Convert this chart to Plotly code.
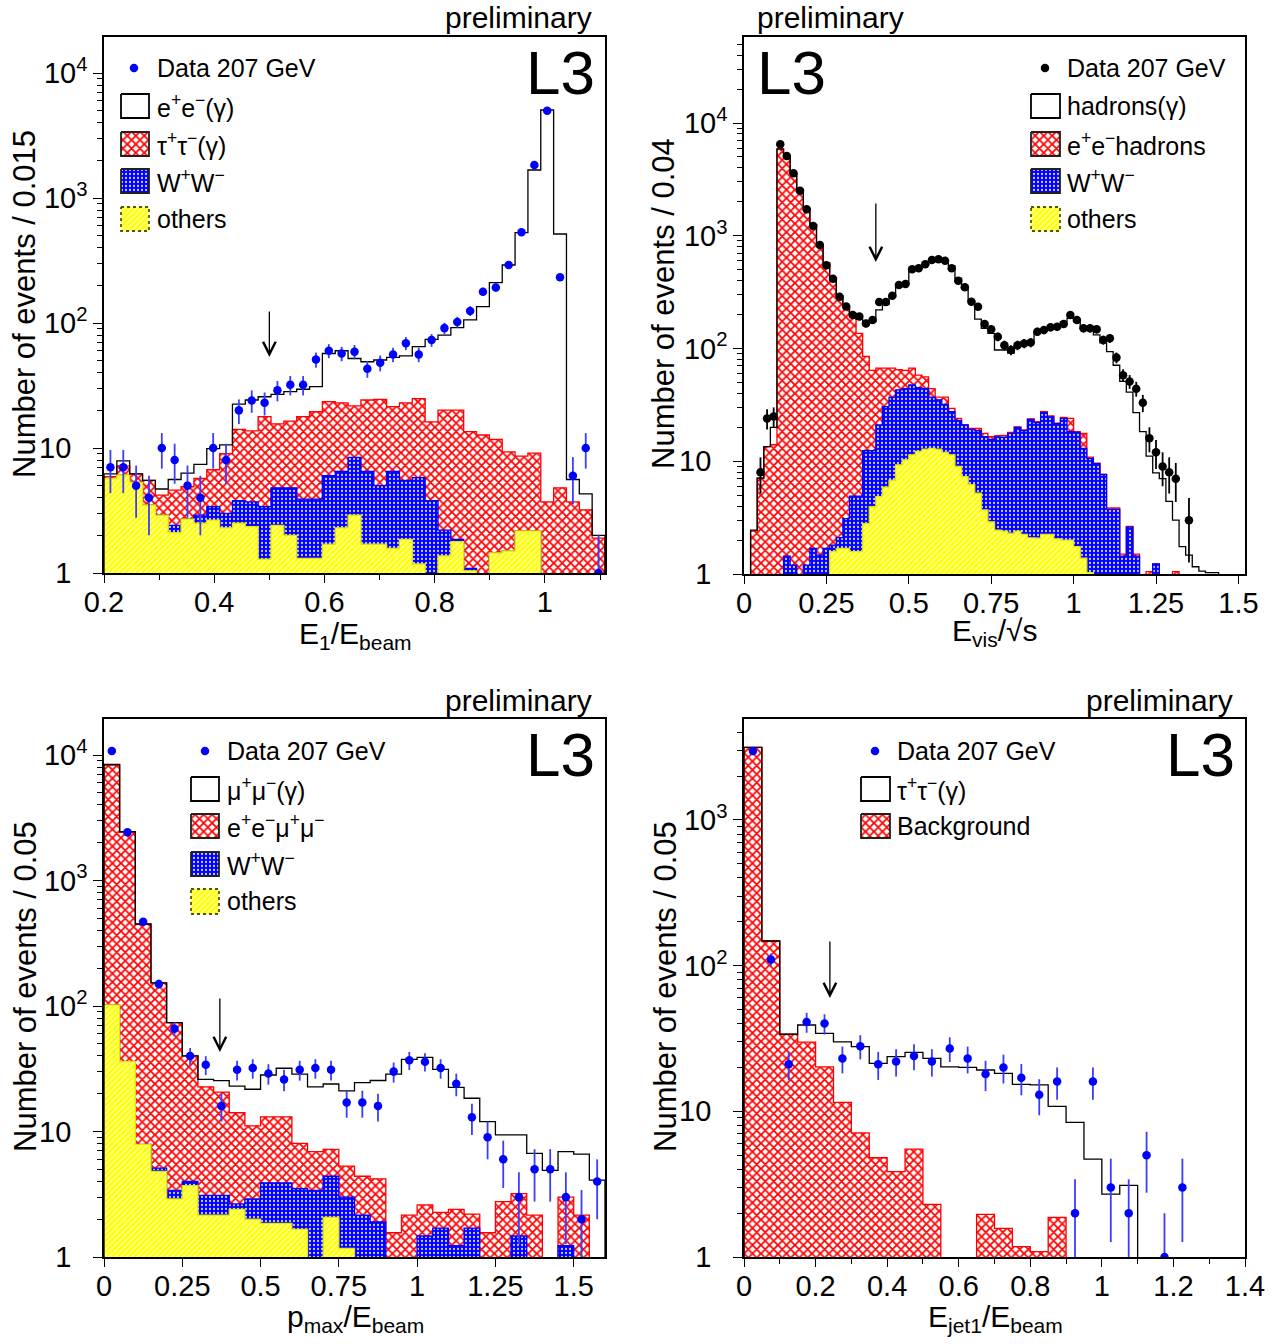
import numpy as np
import plotly.graph_objects as go

W, H = 1282, 1344
FONT = "Liberation Sans, Arial, Helvetica, sans-serif"

# ---------------- Panel 1 : E1/Ebeam ----------------
E1_EDGES = np.linspace(0.2, 1.109, 40)
E1_DATA = [7, 7, 5, 4, 10, 8, 5, 4, 10, 8, 20, 24, 23, 29, 32, 32, 51, 60, 57, 59,
           43, 48, 56, 69, 56, 73, 91, 102, 125, 178, 192, 291, 532, 1836, 4997, 232, 6, 10, 1]
E1_TOTAL = [6.2, 7.9, 6.2, 5.5, 4.7, 5.6, 6.3, 7.4, 9.9, 10.6, 22.4, 24.2, 25.7, 26.9, 28.2, 29.5,
            31, 57, 60, 52, 49, 50.6, 53, 54.5, 64.7, 74, 80, 92, 106, 135, 210, 291, 528, 1675,
            5060, 515, 5.6, 4.3, 2.0]
E1_TAU = [5.9, 7.2, 6.2, 5.5, 4.2, 4.6, 4.9, 5.7, 6.7, 9.0, 14.1, 13.7, 17.8, 15.6, 16.4, 17.8,
          19.5, 23.5, 23, 21.7, 24.2, 24.5, 21.4, 23, 24.8, 16.2, 20.1, 20.1, 13.5, 12.7, 11.7,
          9.3, 8.6, 9.1, 3.7, 4.8, 3.7, 3.2, 1.9]
E1_WW = [5.7, 6.1, 5.3, 3.5, 2.9, 2.4, 2.7, 2.9, 3.4, 3.0, 3.8, 3.7, 3.4, 4.8, 4.8, 3.9, 3.9,
         6.0, 6.5, 8.4, 6.5, 5.0, 6.5, 5.5, 5.8, 3.8, 2.2, 1.86, 1.09, 0, 1.45, 1.5, 2.17, 2.17,
         0, 0, 0, 0, 0]
E1_OTHERS = [5.7, 6.1, 5.3, 3.5, 2.9, 2.1, 2.7, 2.5, 2.65, 2.3, 2.5, 2.35, 1.29, 2.4, 2.0, 1.31,
             1.31, 1.7, 2.3, 2.9, 1.7, 1.7, 1.57, 1.86, 1.18, 0, 1.37, 1.78, 1.04, 0, 1.45, 1.5,
             2.17, 2.17, 0, 0, 0, 0, 0]

# ---------------- Panel 2 : Evis/sqrt(s) ----------------
EV_EDGES = np.linspace(0.0, 1.52, 77)
EV_DATA = [0, 0, 8, 24, 25, 6470, 5100, 3580, 2510, 1718, 1220, 828, 547, 416, 288, 236, 198,
           192, 167, 179, 258, 258, 294, 366, 373, 504, 514, 558, 610, 618, 601, 514, 399, 349,
           260, 235, 165, 148, 127, 107, 97, 107, 111, 113, 141, 146, 154, 156, 165, 198, 179,
           151, 151, 148, 119, 123, 83, 58, 51, 44, 33, 16, 12, 9, 8, 7, 0, 3, 0, 0, 0, 0, 0,
           0, 0, 0]
EV_TOTAL = [0, 2.45, 7.1, 13.5, 20, 5900, 5000, 3600, 2560, 1750, 1250, 830, 575, 425, 292, 240,
            205, 182, 162, 173, 220, 245, 288, 353, 372, 495, 520, 550, 590, 615, 600, 540, 420,
            340, 262, 182, 151, 136, 97, 97, 91, 107, 115, 117, 141, 143, 151, 151, 173, 185,
            173, 151, 146, 132, 112, 94, 71, 51, 41, 27, 18.3, 11.1, 7.9, 7.0, 4.4, 3.0, 1.75,
            1.47, 1.16, 1.06, 1.03, 1.03, 0, 0, 0, 0]
EV_EEHAD = [0, 2.4, 7.0, 13.5, 14, 5850, 4960, 3580, 2560, 1750, 1245, 828, 570, 420, 288, 230,
            191, 136, 85, 64, 67, 67, 67, 65, 64, 67, 58, 56, 44, 37, 37, 29.5, 24, 21, 19.6,
            19.6, 17.7, 16.5, 16.8, 17, 18, 20.2, 19, 23.8, 22.5, 27.6, 25.3, 21.8, 24.5, 24,
            18.3, 17.7, 10.9, 9.6, 7.7, 3.85, 3.85, 1.5, 2.65, 1.5, 0, 1.05, 1.23, 0, 0, 1.05,
            0, 0, 0, 0, 0, 0, 0, 0, 0, 0]
EV_WW = [0, 0, 0, 0, 0, 0, 1.44, 1.2, 0, 1.2, 1.69, 1.47, 1.69, 1.8, 2.1, 3.1, 4.9, 4.9, 12.4,
         12.4, 21, 30.5, 37, 43, 44, 47.5, 45, 44, 37, 35, 32, 27.5, 23, 21, 19.2, 18.7, 16.5,
         15.6, 16.5, 16.3, 17.7, 20, 18.7, 23.5, 22, 27, 24.8, 21.5, 24, 18.3, 18, 13, 10.6,
         9.5, 7.6, 3.75, 3.75, 1.44, 2.6, 1.44, 0, 0, 1.23, 0, 0, 0, 0, 0, 0, 0, 0, 0, 0, 0, 0, 0]
EV_OTHERS = [0, 0, 0, 0, 0, 0, 0, 0, 0, 0, 0, 0, 0, 1.58, 1.69, 1.69, 1.58, 1.58, 2.8, 3.95,
             4.85, 5.9, 6.8, 9.3, 10.3, 11.4, 12.2, 12.8, 13, 12.8, 12, 11.4, 9.0, 7.3, 6.2, 5.2,
             3.7, 2.9, 2.45, 2.4, 2.3, 2.4, 2.25, 2.1, 2.08, 2.25, 2.25, 2.05, 2.0, 2.0, 1.75,
             1.38, 1.03, 0, 0, 0, 0, 0, 0, 0, 0, 0, 0, 0, 0, 0, 0, 0, 0, 0, 0, 0, 0, 0, 0, 0]

# ---------------- Panel 3 : pmax/Ebeam ----------------
P_EDGES = np.linspace(0.0, 1.6, 33)
P_DATA = [10760, 2420, 470, 150, 66, 40, 34, 16, 31, 32, 29, 26, 31, 32, 31, 17, 17, 16, 30, 37,
          36, 32, 24, 13, 9, 6, 3, 5, 5, 3, 2, 4]
P_TOTAL = [8400, 2450, 450, 153, 73.6, 40, 26, 25.4, 23, 21.7, 28.2, 31.9, 28.7, 22.7, 23.9,
           21.1, 24.5, 25.5, 28.7, 37.6, 39, 31.3, 22.5, 18.4, 12, 9.4, 9.4, 6.7, 4.9, 6.9, 6.6, 4.1]
P_EEMUMU = [8320, 2420, 448, 153, 73.6, 40, 22.7, 20.6, 14.1, 11.1, 13.1, 13.1, 8.05, 6.9, 7.2,
            5.3, 4.4, 4.2, 1.56, 2.16, 2.6, 2.27, 2.4, 2.2, 1.56, 2.76, 3.2, 2.16, 0, 3.0, 2.16, 0]
P_WW = [102, 36, 7.9, 5.1, 3.4, 4.0, 3.1, 3.1, 2.65, 2.9, 3.9, 3.9, 3.5, 3.4, 4.4, 3.0, 2.16,
        1.9, 0, 0, 1.47, 1.7, 1.23, 1.7, 0, 0, 1.47, 0, 0, 1.23, 0, 0]
P_OTHERS = [102, 36, 7.9, 4.8, 2.9, 3.7, 2.16, 2.16, 2.4, 2.0, 1.85, 1.85, 1.66, 0, 2.07, 1.17,
            0, 0, 0, 0, 0, 0, 0, 0, 0, 0, 0, 0, 0, 0, 0, 0]

# ---------------- Panel 4 : Ejet1/Ebeam ----------------
J_EDGES = np.linspace(0.0, 1.4, 29)
J_DATA = [2970, 110, 21, 41, 40, 23, 28, 21, 22, 24, 22, 27, 23, 18, 20, 17, 13, 16, 2, 16, 3, 2,
          5, 1, 3, 0, 0, 0]
J_TOTAL = [3150, 147.5, 33.8, 39.1, 34.3, 30, 27.8, 21.3, 23.7, 25.4, 23.1, 20.2, 20, 19.2, 18.2,
           15.3, 15.2, 10.8, 8.4, 4.7, 2.7, 3.1, 0, 0, 0, 0, 0, 0]
J_BKG = [3150, 147.5, 33.8, 29.8, 20.2, 11.5, 7.1, 4.8, 3.85, 5.5, 2.3, 0, 0, 1.96, 1.57, 1.18,
         1.09, 1.87, 0, 0, 0, 0, 0, 0, 0, 0, 0, 0]

# cut positions (arrows)
CUTS = [0.5, 0.4, 0.37, 0.24]

# ---------------- styles ----------------
RED_PAT = dict(shape="x", fgcolor="#ff0000", bgcolor="#ffffff", size=6, solidity=0.5, fillmode="replace")
BLUE_PAT = dict(shape=".", fgcolor="#c8c8ff", bgcolor="#0000ff", size=4, solidity=0.25, fillmode="replace")
YEL_PAT = dict(shape="/", fgcolor="#ffffb4", bgcolor="#ffff00", size=4, solidity=0.35, fillmode="replace")


def PX(x):
    return x / W


def PY(y):
    return 1 - y / H


def step_xy(edges, vals, floor=0.1):
    xs = [edges[0]]
    ys = [floor]
    for i, v in enumerate(vals):
        vv = v if v > 0 else floor
        xs += [edges[i], edges[i + 1]]
        ys += [vv, vv]
    xs.append(edges[-1])
    ys.append(floor)
    return xs, ys


fig = go.Figure()


def add_fill(xa, ya, edges, vals, pat, lcol):
    xs, ys = step_xy(edges, vals)
    fig.add_trace(go.Scatter(x=xs, y=ys, xaxis=xa, yaxis=ya, mode="lines", fill="toself",
                             fillpattern=pat, line=dict(color=lcol, width=1.3),
                             showlegend=False, hoverinfo="skip"))


def add_line(xa, ya, edges, vals):
    xs, ys = step_xy(edges, vals)
    fig.add_trace(go.Scatter(x=xs, y=ys, xaxis=xa, yaxis=ya, mode="lines",
                             line=dict(color="black", width=1.3),
                             showlegend=False, hoverinfo="skip"))


def add_data(xa, ya, edges, vals, col, ecol):
    e = np.asarray(edges)
    c = (e[:-1] + e[1:]) / 2
    v = np.asarray(vals, dtype=float)
    m = v > 0
    fig.add_trace(go.Scatter(x=c[m], y=v[m], xaxis=xa, yaxis=ya, mode="markers",
                             marker=dict(color=col, size=8.5),
                             error_y=dict(type="data", array=np.sqrt(v[m]), color=ecol,
                                          thickness=1.8, width=0),
                             showlegend=False, hoverinfo="skip"))


# panel 1
add_fill("x", "y", E1_EDGES, E1_TAU, RED_PAT, "#ff0000")
add_fill("x", "y", E1_EDGES, E1_WW, BLUE_PAT, "#0000ff")
add_fill("x", "y", E1_EDGES, E1_OTHERS, YEL_PAT, "#e6e600")
add_line("x", "y", E1_EDGES, E1_TOTAL)
add_data("x", "y", E1_EDGES, E1_DATA, "#0000ff", "#3c3cff")
# panel 2
add_fill("x2", "y2", EV_EDGES, EV_EEHAD, RED_PAT, "#ff0000")
add_fill("x2", "y2", EV_EDGES, EV_WW, BLUE_PAT, "#0000ff")
add_fill("x2", "y2", EV_EDGES, EV_OTHERS, YEL_PAT, "#e6e600")
add_line("x2", "y2", EV_EDGES, EV_TOTAL)
add_data("x2", "y2", EV_EDGES, EV_DATA, "#000000", "#000000")
# panel 3
add_fill("x3", "y3", P_EDGES, P_EEMUMU, RED_PAT, "#ff0000")
add_fill("x3", "y3", P_EDGES, P_WW, BLUE_PAT, "#0000ff")
add_fill("x3", "y3", P_EDGES, P_OTHERS, YEL_PAT, "#e6e600")
add_line("x3", "y3", P_EDGES, P_TOTAL)
add_data("x3", "y3", P_EDGES, P_DATA, "#0000ff", "#3c3cff")
# panel 4
add_fill("x4", "y4", J_EDGES, J_BKG, RED_PAT, "#ff0000")
add_line("x4", "y4", J_EDGES, J_TOTAL)
add_data("x4", "y4", J_EDGES, J_DATA, "#0000ff", "#3c3cff")

# ---------------- legend symbols on a pixel overlay ----------------
def box(x0, y0, x1, y1, pat, lcol, dash="solid"):
    kw = dict(fill="toself", fillcolor="white") if pat is None else dict(fill="toself", fillpattern=pat)
    fig.add_trace(go.Scatter(x=[x0, x1, x1, x0, x0], y=[y0, y0, y1, y1, y0], xaxis="x5", yaxis="y5",
                             mode="lines", line=dict(color=lcol, width=1.8, dash=dash),
                             showlegend=False, hoverinfo="skip", **kw))


def dot(x, y, col):
    fig.add_trace(go.Scatter(x=[x], y=[y], xaxis="x5", yaxis="y5", mode="markers",
                             marker=dict(color=col, size=8.5), showlegend=False, hoverinfo="skip"))


ROWS_TOP = [(94, 118), (132, 156), (169, 193), (207, 231)]
ROWS_BOT = [(777, 801), (814, 838), (852, 876), (889, 914)]
STYLES = [(None, "black", "solid"), (RED_PAT, "#202020", "solid"),
          (BLUE_PAT, "#202020", "solid"), (YEL_PAT, "#555500", "dot")]

for (bx0, bx1, rows, n) in [(121, 149, ROWS_TOP, 4), (1031, 1060, ROWS_TOP, 4),
                            (191, 219, ROWS_BOT, 4), (861, 890, ROWS_BOT, 2)]:
    for i in range(n):
        pat, lc, ds = STYLES[i]
        box(bx0, rows[i][0], bx1, rows[i][1], pat, lc, ds)

dot(134, 68, "#0000ff")
dot(1045, 68, "#000000")
dot(205, 751, "#0000ff")
dot(875, 751, "#0000ff")

# ---------------- layout ----------------
def xcfg(dom, rng, tick0, dtick, minor):
    d = dict(domain=dom, range=rng, tickmode="linear", tick0=tick0, dtick=dtick,
             ticks="outside", ticklen=8, tickwidth=1.2, tickcolor="black",
             showline=True, linecolor="black", linewidth=1.5, mirror=True,
             showgrid=False, zeroline=False, automargin=False, ticklabelstandoff=-6,
             tickfont=dict(size=29, color="black", family=FONT))
    if minor:
        d["minor"] = dict(tick0=tick0, dtick=minor, ticks="outside", ticklen=5,
                          tickwidth=1.2, tickcolor="black", showgrid=False)
    return d


PAD = "\u00a0\u00a0"


def ycfg(dom, top, maxexp):
    vals = [10 ** e for e in range(maxexp + 1)]
    txt = ["1" + PAD, "10" + PAD] + ["10<sup>%d</sup>" % e for e in range(2, maxexp + 1)]
    minor = [m * 10 ** e for e in range(maxexp + 1) for m in range(2, 10)]
    return dict(type="log", domain=dom, range=[0, top], tickmode="array", tickvals=vals,
                ticktext=txt, ticks="outside", ticklen=9, tickwidth=1.2, tickcolor="black",
                showline=True, linecolor="black", linewidth=1.5, mirror=True,
                showgrid=False, zeroline=False, automargin=False,
                tickfont=dict(size=29, color="black", family=FONT),
                minor=dict(tickmode="array", tickvals=minor, ticks="outside", ticklen=5,
                           tickwidth=1.2, tickcolor="black", showgrid=False))


XL = [PX(104), PX(605)]
XR = [PX(744), PX(1245)]
YT = [PY(573), PY(37)]
YB = [PY(1257), PY(719)]

layout = dict(
    width=W, height=H, margin=dict(l=0, r=0, t=0, b=0, autoexpand=False),
    paper_bgcolor="white", plot_bgcolor="rgba(0,0,0,0)",
    font=dict(family=FONT, color="black"),
    showlegend=False,
    xaxis=xcfg(XL, [0.2, 1.109], 0.2, 0.2, 0.1),
    yaxis=ycfg(YT, (573 - 37) / 125.0, 4),
    xaxis2=xcfg(XR, [0, 1.52], 0, 0.25, None),
    yaxis2=ycfg([PY(574), PY(37)], (574 - 37) / 112.75, 4),
    xaxis3=xcfg(XL, [0, 1.6], 0, 0.25, None),
    yaxis3=ycfg(YB, (1257 - 719) / 125.5, 4),
    xaxis4=xcfg(XR, [0, 1.4], 0, 0.2, 0.1),
    yaxis4=ycfg(YB, (1257 - 719) / 145.7, 3),
    xaxis5=dict(domain=[0, 1], range=[0, W], visible=False, fixedrange=True, automargin=False),
    yaxis5=dict(domain=[0, 1], range=[H, 0], visible=False, fixedrange=True, automargin=False),
)
for i in ["", "2", "3", "4", "5"]:
    layout["xaxis" + i]["anchor"] = "y" + i
    layout["yaxis" + i]["anchor"] = "x" + i
fig.update_layout(**layout)

ann = []


def txt(x, y, s, size, xa="left", ya="middle", angle=0):
    ann.append(dict(x=PX(x), y=PY(y), xref="paper", yref="paper", text=s, showarrow=False,
                    xanchor=xa, yanchor=ya, textangle=angle,
                    font=dict(size=size, family=FONT, color="black")))


# preliminary / L3
txt(594, 17, "preliminary", 30, "right")
txt(755, 17, "preliminary", 30, "left")
txt(594, 700, "preliminary", 30, "right")
txt(1235, 700, "preliminary", 30, "right")
txt(597, 72, "L3", 62, "right")
txt(755, 72, "L3", 62, "left")
txt(597, 754, "L3", 62, "right")
txt(1237, 754, "L3", 62, "right")

# legends
LEG = 25
M = "\u2212"
txt(155, 68, "Data 207 GeV", LEG)
for s, yy in zip(["e<sup>+</sup>e<sup>%s</sup>(γ)" % M, "τ<sup>+</sup>τ<sup>%s</sup>(γ)" % M,
                  "W<sup>+</sup>W<sup>%s</sup>" % M, "others"], [106, 144, 181, 219]):
    txt(155, yy, s, LEG)
txt(1065, 68, "Data 207 GeV", LEG)
for s, yy in zip(["hadrons(γ)", "e<sup>+</sup>e<sup>%s</sup>hadrons" % M,
                  "W<sup>+</sup>W<sup>%s</sup>" % M, "others"], [106, 144, 181, 219]):
    txt(1065, yy, s, LEG)
txt(225, 751, "Data 207 GeV", LEG)
for s, yy in zip(["μ<sup>+</sup>μ<sup>%s</sup>(γ)" % M,
                  "e<sup>+</sup>e<sup>%s</sup>μ<sup>+</sup>μ<sup>%s</sup>" % (M, M),
                  "W<sup>+</sup>W<sup>%s</sup>" % M, "others"], [789, 826, 864, 901]):
    txt(225, yy, s, LEG)
txt(895, 751, "Data 207 GeV", LEG)
for s, yy in zip(["τ<sup>+</sup>τ<sup>%s</sup>(γ)" % M, "Background"], [789, 826]):
    txt(895, yy, s, LEG)

# axis titles
txt(355, 635, "E<sub>1</sub>/E<sub>beam</sub>", 30, "center")
txt(995, 633, "E<sub>vis</sub>/√s", 30, "center")
txt(355, 1318, "p<sub>max</sub>/E<sub>beam</sub>", 30, "center")
txt(995, 1318, "E<sub>jet1</sub>/E<sub>beam</sub>", 30, "center")
txt(25, 304, "Number of events / 0.015", 31, "center", "middle", -90)
txt(664, 304, "Number of events / 0.04", 31, "center", "middle", -90)
txt(25, 987, "Number of events / 0.05", 31, "center", "middle", -90)
txt(665, 987, "Number of events / 0.05", 31, "center", "middle", -90)

# cut arrows (annotation y is log10 on log axes)
for (xr, yr, xc, headlog, ay) in [("x", "y", CUTS[0], 1.728, -47), ("x2", "y2", CUTS[1], 2.767, -60),
                                  ("x3", "y3", CUTS[2], 1.633, -55), ("x4", "y4", CUTS[3], 1.778, -58)]:
    ann.append(dict(x=xc, y=headlog, xref=xr, yref=yr, ax=0, ay=ay, text="", showarrow=True,
                    arrowhead=5, arrowsize=1.9, arrowwidth=1.3, arrowcolor="black", standoff=0))

fig.update_layout(annotations=ann)
fig.write_html("out.html")
